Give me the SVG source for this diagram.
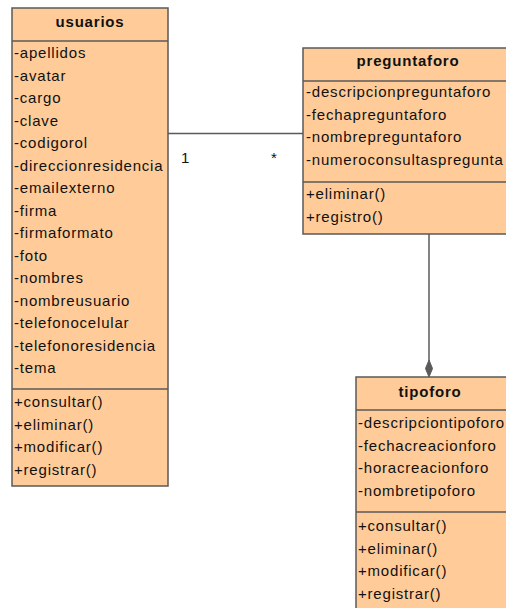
<svg xmlns="http://www.w3.org/2000/svg" width="506" height="608" viewBox="0 0 506 608">
  <style>
    .box { fill: #FFCC99; stroke: #5a5a5a; stroke-width: 1.5; }
    .sep { stroke: #5a5a5a; stroke-width: 1.5; }
    .t { font-family: "Liberation Sans", Arial, sans-serif; font-size: 15px; letter-spacing: 0.8px; fill: #111; }
    .h { font-family: "Liberation Sans", Arial, sans-serif; font-size: 15px; font-weight: bold; letter-spacing: 0.8px; fill: #111; text-anchor: middle; }
    .link { stroke: #5a5a5a; stroke-width: 1.5; fill: none; }
  </style>
  <rect width="506" height="608" fill="#ffffff"/>

  <!-- associations -->
  <g id="connectors">
    <line class="link" x1="168" y1="133.5" x2="303" y2="133.5"/>
    <text class="t" x="181" y="163">1</text>
    <text class="t" x="271" y="163">*</text>
    <line class="link" x1="429" y1="234" x2="429" y2="361"/>
    <polygon points="429,360 432.5,368.5 429,377 425.5,368.5" fill="#5a5a5a" stroke="#5a5a5a" stroke-width="1"/>
  </g>

  <!-- class usuarios -->
  <g id="usuarios">
    <rect class="box" x="12" y="8" width="156" height="478"/>
    <line class="sep" x1="12" y1="41" x2="168" y2="41"/>
    <line class="sep" x1="12" y1="389" x2="168" y2="389"/>
    <text class="h" x="90" y="27">usuarios</text>
    <text class="t" x="14" y="58">-apellidos</text>
    <text class="t" x="14" y="80.5">-avatar</text>
    <text class="t" x="14" y="103">-cargo</text>
    <text class="t" x="14" y="125.5">-clave</text>
    <text class="t" x="14" y="148">-codigorol</text>
    <text class="t" x="14" y="170.5">-direccionresidencia</text>
    <text class="t" x="14" y="193">-emailexterno</text>
    <text class="t" x="14" y="215.5">-firma</text>
    <text class="t" x="14" y="238">-firmaformato</text>
    <text class="t" x="14" y="260.5">-foto</text>
    <text class="t" x="14" y="283">-nombres</text>
    <text class="t" x="14" y="305.5">-nombreusuario</text>
    <text class="t" x="14" y="328">-telefonocelular</text>
    <text class="t" x="14" y="350.5">-telefonoresidencia</text>
    <text class="t" x="14" y="373">-tema</text>
    <text class="t" x="14" y="407">+consultar()</text>
    <text class="t" x="14" y="429.5">+eliminar()</text>
    <text class="t" x="14" y="452">+modificar()</text>
    <text class="t" x="14" y="474.5">+registrar()</text>
  </g>

  <!-- class preguntaforo -->
  <g id="preguntaforo">
    <rect class="box" x="303" y="48" width="212" height="186"/>
    <line class="sep" x1="303" y1="81" x2="515" y2="81"/>
    <line class="sep" x1="303" y1="182" x2="515" y2="182"/>
    <text class="h" x="408" y="66">preguntaforo</text>
    <text class="t" x="306" y="97">-descripcionpreguntaforo</text>
    <text class="t" x="306" y="119.5">-fechapreguntaforo</text>
    <text class="t" x="306" y="142">-nombrepreguntaforo</text>
    <text class="t" x="306" y="164.5">-numeroconsultaspregunta</text>
    <text class="t" x="306" y="199">+eliminar()</text>
    <text class="t" x="306" y="221.5">+registro()</text>
  </g>

  <!-- class tipoforo -->
  <g id="tipoforo">
    <rect class="box" x="356" y="377" width="160" height="240"/>
    <line class="sep" x1="356" y1="410" x2="516" y2="410"/>
    <line class="sep" x1="356" y1="512" x2="516" y2="512"/>
    <text class="h" x="430" y="397">tipoforo</text>
    <text class="t" x="358" y="428">-descripciontipoforo</text>
    <text class="t" x="358" y="450.5">-fechacreacionforo</text>
    <text class="t" x="358" y="473">-horacreacionforo</text>
    <text class="t" x="358" y="495.5">-nombretipoforo</text>
    <text class="t" x="358" y="531">+consultar()</text>
    <text class="t" x="358" y="553.5">+eliminar()</text>
    <text class="t" x="358" y="576">+modificar()</text>
    <text class="t" x="358" y="598.5">+registrar()</text>
  </g>
</svg>
